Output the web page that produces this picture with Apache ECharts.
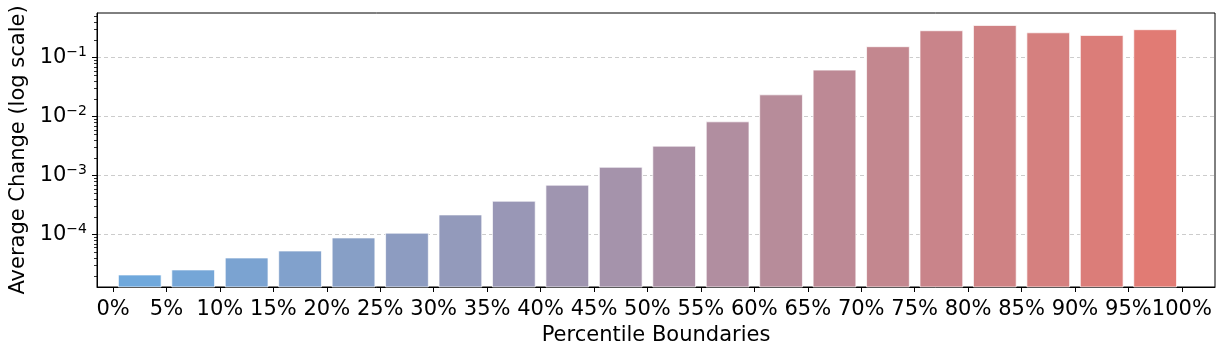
<!DOCTYPE html>
<html>
<head>
<meta charset="utf-8">
<script src="https://cdn.jsdelivr.net/npm/echarts@6/dist/echarts.min.js"></script>
<style>html,body{margin:0;padding:0;background:#fff;}#c{width:1224px;height:346px;}</style>
</head>
<body>
<div id="c"></div>
<script>
// ---- data ----
const binIndex = [0,1,2,3,4,5,6,7,8,9,10,11,12,13,14,15,16,17,18,19];
const avgChange = [2.07e-5, 2.52e-5, 4.02e-5, 5.28e-5, 8.79e-5, 1.06e-4, 2.16e-4, 3.69e-4, 6.90e-4, 1.39e-3,
                   3.17e-3, 8.19e-3, 2.35e-2, 6.17e-2, 0.154, 0.287, 0.353, 0.265, 0.239, 0.299];
const tickLabels = ['0%','5%','10%','15%','20%','25%','30%','35%','40%','45%','50%',
                    '55%','60%','65%','70%','75%','80%','85%','90%','95%','100%'];
const yMajorTicks = [1e-4, 1e-3, 1e-2, 1e-1];
const yMinorTicks = [2e-5,3e-5,4e-5,5e-5,6e-5,7e-5,8e-5,9e-5,
                     2e-4,3e-4,4e-4,5e-4,6e-4,7e-4,8e-4,9e-4,
                     2e-3,3e-3,4e-3,5e-3,6e-3,7e-3,8e-3,9e-3,
                     2e-2,3e-2,4e-2,5e-2,6e-2,7e-2,8e-2,9e-2,
                     2e-1,3e-1,4e-1,5e-1];
const xTickPositions = tickLabels.map((_, i) => i - 0.5);

// ---- style ----
const FONT = 'DejaVu Sans';
const FS = 21;
const cStart = [111,168,220], cEnd = [225,123,116];
function barColor(i, n) {
  const t = n > 1 ? i / (n - 1) : 0;
  const c = cStart.map((v, k) => Math.round(v + (cEnd[k] - v) * t));
  return 'rgb(' + c.join(',') + ')';
}
const seriesData = binIndex.map((x, i) => [x, avgChange[i]]);

const chart = echarts.init(document.getElementById('c'), null, {renderer: 'canvas'});
chart.setOption({
  animation: false,
  backgroundColor: '#fff',
  grid: {left: 97, top: 13, right: 9, bottom: 59, containLabel: false, outerBoundsMode: 'none',
         show: true, borderColor: '#000', borderWidth: 1, backgroundColor: 'transparent'},
  xAxis: {
    type: 'value', min: -0.8, max: 20.12,
    name: 'Percentile Boundaries', nameLocation: 'middle', nameGap: 38,
    nameTextStyle: {fontFamily: FONT, fontSize: FS, color: '#000'},
    axisLine: {show: true, onZero: false, lineStyle: {color: '#000', width: 1}},
    axisTick: {show: true, length: 5, lineStyle: {color: '#000'}, customValues: xTickPositions},
    axisLabel: {
      customValues: xTickPositions, margin: 12,
      fontFamily: FONT, fontSize: FS, color: '#000',
      formatter: v => tickLabels[Math.round(v + 0.5)]
    },
    splitLine: {show: false}
  },
  yAxis: [{
    type: 'log', min: 1.294e-5, max: 0.574, logBase: 10,
    name: 'Average Change (log scale)', nameLocation: 'middle', nameGap: 66,
    nameTextStyle: {fontFamily: FONT, fontSize: FS, color: '#000'},
    axisLine: {show: true, onZero: false, lineStyle: {color: '#000', width: 1}},
    axisTick: {show: true, length: 5, lineStyle: {color: '#000'}, customValues: yMajorTicks},
    axisLabel: {
      customValues: yMajorTicks, margin: 10,
      fontFamily: FONT, color: '#000',
      formatter: v => '{b|10}{s|\u2212' + Math.round(-Math.log10(v)) + '}',
      rich: {
        b: {fontFamily: FONT, fontSize: FS, lineHeight: 25, color: '#000'},
        s: {fontFamily: FONT, fontSize: 14, lineHeight: 14, verticalAlign: 'top', color: '#000'}
      }
    },
    splitLine: {show: true, lineStyle: {color: '#cccccc', type: [4, 3], width: 1}}
  }, {
    type: 'log', min: 1.294e-5, max: 0.574, logBase: 10, position: 'left',
    axisLine: {show: false, onZero: false},
    axisTick: {show: true, length: 3, lineStyle: {color: '#000', width: 0.8}, customValues: yMinorTicks},
    axisLabel: {show: false},
    splitLine: {show: false}
  }],
  series: [{
    type: 'custom',
    xAxisIndex: 0, yAxisIndex: 0,
    data: seriesData,
    renderItem: function (params, api) {
      const x = api.value(0), y = api.value(1);
      const pL = api.coord([x - 0.4, y]);
      const pR = api.coord([x + 0.4, y]);
      const bottom = params.coordSys.y + params.coordSys.height;
      return {
        type: 'rect',
        shape: {x: pL[0], y: pL[1], width: pR[0] - pL[0], height: bottom - pL[1]},
        style: {fill: barColor(params.dataIndex, avgChange.length), stroke: 'rgba(255,255,255,0.7)', lineWidth: 1}
      };
    },
    encode: {x: 0, y: 1}
  }]
});
</script>
</body>
</html>
